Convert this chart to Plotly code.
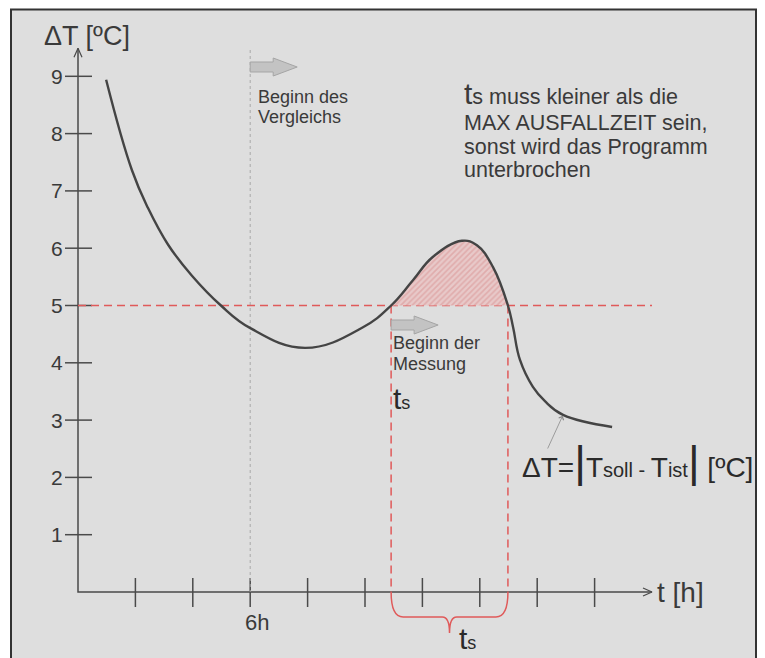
import plotly.graph_objects as go

# ---------------- data ----------------
t_curve = [0.98, 1.88, 2.44, 3.14, 3.97, 4.98, 5.99, 7.91, 9.93,
           10.91, 11.67, 12.37, 13.38, 13.90, 14.46, 14.98,
           15.16, 15.40, 15.85, 16.27, 16.90, 18.61]
dT_curve = [8.94, 7.36, 6.70, 6.06, 5.52, 5.00, 4.61, 4.26, 4.62,
            5.00, 5.44, 5.85, 6.13, 6.05, 5.67, 5.00,
            4.62, 4.05, 3.58, 3.33, 3.09, 2.88]
threshold = 5.0
t_compare = 6.0
t_start = 10.91
t_end = 14.98
y_ticks = [1, 2, 3, 4, 5, 6, 7, 8, 9]
y_tick_labels = ["1", "2", "3", "4", "5", "6", "7", "8", "9"]
x_ticks = [2, 4, 6, 8, 10, 12, 14, 16, 18]
x_label_ticks = [6]
x_label_texts = ["6h"]
x_axis_end = 20.0
y_axis_end = 9.49
info_lines = ["<span style='font-size:30px'>t</span>s muss kleiner als die",
              "MAX AUSFALLZEIT sein,",
              "sonst wird das Programm",
              "unterbrochen"]
compare_lines = ["Beginn des", "Vergleichs"]
measure_lines = ["Beginn der", "Messung"]

# ---------------- pixel <-> data mapping ----------------
OFF = 8                 # page body margin
W, H = 765, 658         # window
WF, HF = W - OFF, H - OFF
X0, SX = 78.0, 28.7
Y0, SY = 592.0, 57.3
def tx(px):
    return (px - X0) / SX
def ty(py):
    return (Y0 - py) / SY

FONT = "Liberation Sans, Arial, sans-serif"
TXT = "#3a3a3a"
AX = "#4a4a4a"
RED = "#e05a5a"

fig = go.Figure()

# axis lines
fig.add_trace(go.Scatter(x=[0, 0, x_axis_end], y=[y_axis_end, 0, 0], mode="lines",
                         line=dict(color=AX, width=1.5), hoverinfo="skip"))
# axis arrow chevrons
fig.add_trace(go.Scatter(x=[-4 / SX, 0, 4 / SX], y=[y_axis_end - 9 / SY, y_axis_end, y_axis_end - 9 / SY],
                         mode="lines", line=dict(color=AX, width=1.2), hoverinfo="skip"))
fig.add_trace(go.Scatter(x=[x_axis_end - 9 / SX, x_axis_end, x_axis_end - 9 / SX],
                         y=[4 / SY, 0, -4 / SY],
                         mode="lines", line=dict(color=AX, width=1.2), hoverinfo="skip"))
# tick marks
yt_x, yt_y = [], []
for v in y_ticks:
    yt_x += [-13 / SX, 14 / SX, None]
    yt_y += [v, v, None]
fig.add_trace(go.Scatter(x=yt_x, y=yt_y, mode="lines", line=dict(color=AX, width=1.5), hoverinfo="skip"))
xt_x, xt_y = [], []
for v in x_ticks:
    xt_x += [v, v, None]
    xt_y += [14 / SY, -15 / SY, None]
fig.add_trace(go.Scatter(x=xt_x, y=xt_y, mode="lines", line=dict(color=AX, width=1.5), hoverinfo="skip"))

# grey dashed comparison line
fig.add_trace(go.Scatter(x=[t_compare, t_compare], y=[ty(50), 0], mode="lines",
                         line=dict(color="#a8a8a8", width=1, dash="3px,3px"), hoverinfo="skip"))

# red threshold lines
fig.add_trace(go.Scatter(x=[0, x_axis_end], y=[threshold, threshold], mode="lines",
                         line=dict(color=RED, width=1.5, dash="8px,5px"), hoverinfo="skip"))
for tv in (t_start, t_end):
    fig.add_trace(go.Scatter(x=[tv, tv], y=[threshold, 0], mode="lines",
                             line=dict(color=RED, width=1.5, dash="8px,5px"), hoverinfo="skip"))

# hatched area above threshold
sel_t = [t for t in t_curve if t_start <= t <= t_end]
sel_y = [y for t, y in zip(t_curve, dT_curve) if t_start <= t <= t_end]
fig.add_trace(go.Scatter(x=[t_start, t_end], y=[threshold, threshold], mode="lines",
                         line=dict(width=0, color="rgba(0,0,0,0)"), hoverinfo="skip"))
fig.add_trace(go.Scatter(x=sel_t, y=sel_y, mode="lines", fill="tonexty",
                         line=dict(width=0, shape="spline", smoothing=1.2, color="rgba(0,0,0,0)"),
                         fillpattern=dict(shape="/", fgcolor="#d88f8f", bgcolor="#e8c9c9",
                                          size=4, solidity=0.4),
                         hoverinfo="skip"))

# main curve
fig.add_trace(go.Scatter(x=t_curve, y=dT_curve, mode="lines",
                         line=dict(color="#444444", width=2.4, shape="spline", smoothing=1.2),
                         hoverinfo="skip"))

shapes = []
# frame background
shapes.append(dict(type="rect", xref="paper", yref="paper", x0=(11 - OFF) / WF, x1=(756 - OFF) / WF,
                   y0=-0.02, y1=1 - 1.5 / HF, fillcolor="#dedede",
                   line=dict(color="#333333", width=2), layer="below"))

def block_arrow(t0, yc):
    bl, hl = 23 / SX, 24 / SX
    hb, hh = 5 / SY, 9 / SY
    p = (f"M {t0},{yc - hb} L {t0 + bl},{yc - hb} L {t0 + bl},{yc - hh} "
         f"L {t0 + bl + hl},{yc} L {t0 + bl},{yc + hh} L {t0 + bl},{yc + hb} L {t0},{yc + hb} Z")
    return dict(type="path", xref="x", yref="y", path=p, fillcolor="#c3c3c3",
                line=dict(color="#a5a5a5", width=1), layer="above")

shapes.append(block_arrow(t_compare, ty(67)))
shapes.append(block_arrow(t_start, ty(325)))

# brace under the measuring interval
tm = (t_start + t_end) / 2
yb, ytip = ty(617), ty(633)
r = 12 / SX
brace = (f"M {t_start},0 Q {t_start},{yb} {t_start + r},{yb} L {tm - r * 0.6},{yb} "
         f"Q {tm},{yb} {tm},{ytip} Q {tm},{yb} {tm + r * 0.6},{yb} "
         f"L {t_end - r},{yb} Q {t_end},{yb} {t_end},0")
shapes.append(dict(type="path", xref="x", yref="y", path=brace,
                   line=dict(color=RED, width=1.5)))

ann = []
def text(x, y, s, size, xanchor="left", yanchor="middle", color=TXT):
    ann.append(dict(x=x, y=y, xref="x", yref="y", text=s, showarrow=False,
                    xanchor=xanchor, yanchor=yanchor,
                    font=dict(family=FONT, size=size, color=color)))

# y tick labels
for v, s in zip(y_ticks, y_tick_labels):
    text(tx(65), v, s, 21, xanchor="right")
for v, s in zip(x_label_ticks, x_label_texts):
    text(v + 7 / SX, ty(622), s, 22, xanchor="center")

# axis titles
text(tx(42), ty(36), "ΔT [ºC]", 27)
text(x_axis_end + 3 / SX, ty(592), "t [h]", 28)

# info text block
for s, py in zip(info_lines, [93, 123, 147, 170]):
    text(tx(462), ty(py), s, 21.5)

for s, py in zip(compare_lines, [97, 117]):
    text(tx(256), ty(py), s, 18)
for s, py in zip(measure_lines, [343, 364]):
    text(tx(391), ty(py), s, 18)

ts = "<span style='font-size:30px'>t</span><span style='font-size:18px'>s</span>"
text(tx(391), ty(398), ts, 30, color="#2a2a2a")
text(tx(457), ty(638), ts, 30, color="#2a2a2a")

# formula
formula = ("ΔT=<span style='font-size:45px'>|</span>T<span style='font-size:20px'>soll - </span>"
           "T<span style='font-size:20px'>ist</span><span style='font-size:45px'>|</span> [ºC]")
text(tx(520), ty(461), formula, 28, color="#2a2a2a")

# pointer arrow to curve
ann.append(dict(x=t_curve[-2], y=dT_curve[-2], ax=tx(547), ay=ty(450), xref="x", yref="y",
                axref="x", ayref="y", text="", showarrow=True, arrowhead=4, arrowsize=1.3,
                arrowwidth=0.8, arrowcolor="#8a8a8a", standoff=1))

fig.update_layout(
    width=WF, height=HF, margin=dict(l=0, r=0, t=0, b=0),
    paper_bgcolor="white", plot_bgcolor="rgba(0,0,0,0)",
    showlegend=False,
    xaxis=dict(range=[tx(OFF), tx(OFF + WF)], visible=False, fixedrange=True),
    yaxis=dict(range=[ty(OFF + HF), ty(OFF)], visible=False, fixedrange=True),
    shapes=shapes, annotations=ann,
)

fig.write_html("out.html", config={"displayModeBar": False})
